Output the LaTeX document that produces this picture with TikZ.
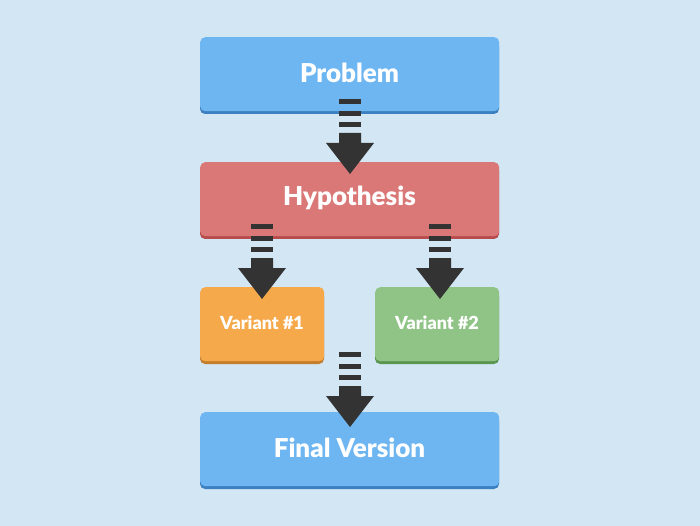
\documentclass[tikz,border=0pt]{standalone}
\usepackage{fontspec}
\setmainfont{Lato}[BoldFont={Lato Black}]
\begin{document}
\begin{tikzpicture}[x=1pt,y=-1pt,
  box/.style={rounded corners=5pt,minimum height=77pt,inner sep=0pt,font=\bfseries\fontsize{26}{30}\selectfont,text=white},
  small/.style={font=\bfseries\fontsize{18}{21}\selectfont},
  pics/sarrow/.style={code={
    \fill[arrowc] (-11,0) rectangle (11,5);
    \fill[arrowc] (-11,12) rectangle (11,17);
    \fill[arrowc] (-11,23) rectangle (11,28);
    \fill[arrowc] (-11,34) -- (11,34) -- (11,44) -- (24,44) -- (0,75) -- (-24,44) -- (-11,44) -- cycle;
  }}]
\definecolor{bg}{HTML}{D2E6F4}
\definecolor{arrowc}{HTML}{333333}
\definecolor{blu}{HTML}{6EB6F1}\definecolor{bluD}{HTML}{3B80C0}
\definecolor{red}{HTML}{DA7877}\definecolor{redD}{HTML}{B84C4C}
\definecolor{ora}{HTML}{F5A94B}\definecolor{oraD}{HTML}{C47E2C}
\definecolor{gre}{HTML}{90C487}\definecolor{greD}{HTML}{5C9752}
\fill[bg] (0,0) rectangle (700,526);
\useasboundingbox (0,0) rectangle (700,526);
\newcommand\mybox[6]{%
  \fill[#6,rounded corners=5pt] (#2,#3+4) rectangle (#4,#5);
  \node[box,fill=#1,minimum width={#4-#2},minimum height={#5-#3-3},anchor=north west] at (#2,#3) {};}
\mybox{blu}{200}{37}{499}{114}{bluD}
\node[box] (p) at (349.5,73) {Problem};
\mybox{red}{200}{162}{499}{239}{redD}
\node[box] (h) at (349.5,198) {Hypothesis};
\mybox{ora}{200}{287}{324}{364}{oraD}
\node[box,small] (v1) at (262,323) {Variant \#1};
\mybox{gre}{375}{287}{499}{364}{greD}
\node[box,small] (v2) at (437,323) {Variant \#2};
\mybox{blu}{200}{412}{499}{489}{bluD}
\node[box] (f) at (349.5,448) {Final Version};
\coordinate (a1) at (350,99);
\coordinate (a2) at (262,224);
\coordinate (a3) at (440,224);
\coordinate (a4) at (350,352);
\pic at (a1) {sarrow};
\pic at (a2) {sarrow};
\pic at (a3) {sarrow};
\pic at (a4) {sarrow};
\end{tikzpicture}
\end{document}
